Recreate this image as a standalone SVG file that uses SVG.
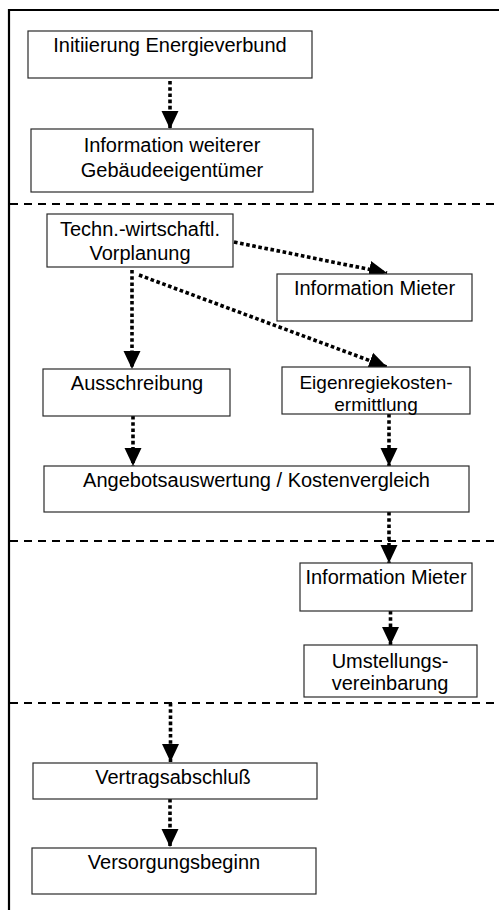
<svg xmlns="http://www.w3.org/2000/svg" width="499" height="910" viewBox="0 0 499 910">
  <style>
    .box { fill: #ffffff; stroke: #2a2a2a; stroke-width: 1.2; }
    .lbl { font-family: "Liberation Sans", Arial, sans-serif; font-size: 20px; fill: #000; text-anchor: middle; }
    .sm { font-size: 19px; }
    .frame { stroke: #000; stroke-width: 2.2; fill: none; }
    .sep { stroke: #000; stroke-width: 2; stroke-dasharray: 8 6; fill: none; }
    .flow { stroke: #000; stroke-width: 3.6; stroke-dasharray: 3.6 2.6; fill: none; marker-end: url(#head); }
  </style>
  <defs>
    <marker id="head" markerUnits="userSpaceOnUse" viewBox="0 0 18 18" markerWidth="18" markerHeight="18" refX="18" refY="9" orient="auto">
      <path d="M0,0.5 L18,9 L0,17.5 z" fill="#000"/>
    </marker>
  </defs>

  <rect width="499" height="910" fill="#ffffff"/>

  <!-- outer frame (top and left edges) -->
  <path class="frame" d="M499,10 L9,10 L9,910"/>

  <!-- phase separators -->
  <g id="separators">
    <line class="sep" x1="10" y1="204" x2="499" y2="204"/>
    <line class="sep" x1="10" y1="541" x2="499" y2="541"/>
    <line class="sep" x1="10" y1="703" x2="499" y2="703"/>
  </g>

  <!-- connectors -->
  <g id="connectors">
    <line class="flow" x1="170" y1="81" x2="170" y2="129"/>
    <line class="flow" x1="234" y1="242" x2="387" y2="273"/>
    <line class="flow" x1="132" y1="270" x2="132" y2="369"/>
    <line class="flow" x1="139" y1="275" x2="387" y2="367"/>
    <line class="flow" x1="133" y1="416" x2="133" y2="466"/>
    <line class="flow" x1="389" y1="414" x2="389" y2="466"/>
    <line class="flow" x1="389" y1="512" x2="389" y2="563"/>
    <line class="flow" x1="390.5" y1="611" x2="390.5" y2="645"/>
    <line class="flow" x1="170.5" y1="703" x2="170.5" y2="762"/>
    <line class="flow" x1="170" y1="799" x2="170" y2="847"/>
  </g>

  <g id="initiierung">
    <rect class="box" x="28" y="31" width="284" height="47"/>
    <text class="lbl" x="170" y="52">Initiierung Energieverbund</text>
  </g>

  <g id="info-eigentuemer">
    <rect class="box" x="31" y="129" width="282" height="63"/>
    <text class="lbl" x="172" y="152">Information weiterer</text>
    <text class="lbl" x="172" y="177">Gebäudeeigentümer</text>
  </g>

  <g id="vorplanung">
    <rect class="box" x="47" y="214" width="186" height="53"/>
    <text class="lbl" x="140" y="236">Techn.-wirtschaftl.</text>
    <text class="lbl" x="140" y="260">Vorplanung</text>
  </g>

  <g id="info-mieter-1">
    <rect class="box" x="277" y="274" width="195" height="47"/>
    <text class="lbl" x="374.5" y="295">Information Mieter</text>
  </g>

  <g id="ausschreibung">
    <rect class="box" x="43" y="369" width="187" height="47"/>
    <text class="lbl" x="137" y="390">Ausschreibung</text>
  </g>

  <g id="eigenregie">
    <rect class="box" x="282" y="367" width="188" height="47"/>
    <text class="lbl sm" x="376" y="388.5">Eigenregiekosten-</text>
    <text class="lbl sm" x="376" y="411">ermittlung</text>
  </g>

  <g id="angebotsauswertung">
    <rect class="box" x="44" y="466" width="425" height="46"/>
    <text class="lbl" x="256.5" y="487">Angebotsauswertung / Kostenvergleich</text>
  </g>

  <g id="info-mieter-2">
    <rect class="box" x="300" y="563" width="172" height="48"/>
    <text class="lbl" x="386" y="584">Information Mieter</text>
  </g>

  <g id="umstellung">
    <rect class="box" x="304" y="645" width="173" height="52"/>
    <text class="lbl" x="390" y="667.5">Umstellungs-</text>
    <text class="lbl" x="390" y="690">vereinbarung</text>
  </g>

  <g id="vertragsabschluss">
    <rect class="box" x="33" y="763" width="284" height="36"/>
    <text class="lbl" x="173" y="784">Vertragsabschluß</text>
  </g>

  <g id="versorgungsbeginn">
    <rect class="box" x="32" y="848" width="284" height="46"/>
    <text class="lbl" x="174" y="869">Versorgungsbeginn</text>
  </g>
</svg>
